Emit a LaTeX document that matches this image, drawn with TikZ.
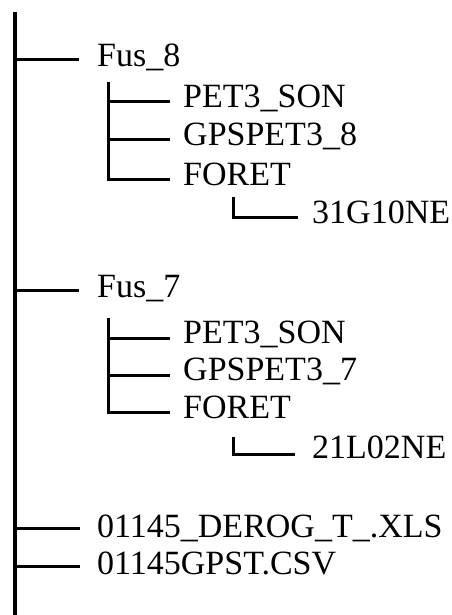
\documentclass[tikz,border=0pt]{standalone}
\usepackage{fontspec}
\setmainfont{Liberation Serif}
\begin{document}
\begin{tikzpicture}[x=1pt,y=-1pt,
  trunk/.style={line width=3.6pt},
  branch/.style={line width=3pt, line join=miter},
  lbl/.style={anchor=base west, inner sep=0pt, font=\fontsize{34}{40}\selectfont}]
\useasboundingbox (0,0) rectangle (451,615);
% main trunk
\coordinate (ttop) at (15,12);
\coordinate (tbot) at (15,615);
\draw[trunk] (ttop) -- (tbot);

% ---------- Fus_8 ----------
\node[lbl] (fus8) at (97,67) {Fus\_8};
\coordinate (m1) at (15,60);
\draw[branch, shorten >=18pt] (m1) -- (m1 -| fus8.west);

\node[lbl] (pet8)  at (183,107) {PET3\_SON};
\node[lbl] (gps8)  at (183,145) {GPSPET3\_8};
\node[lbl] (for8)  at (183,185) {FORET};
\coordinate (s8top) at (108,82);
\coordinate (s8a) at (108,102);
\coordinate (s8b) at (108,139);
\coordinate (s8c) at (108,179);
\draw[branch] (s8top) -- (s8c) -- ([xshift=-13pt]s8c -| for8.west);
\draw[branch, shorten >=13pt] (s8a) -- (s8a -| pet8.west);
\draw[branch, shorten >=13pt] (s8b) -- (s8b -| gps8.west);

\node[lbl] (g31) at (312,223) {31G10NE};
\coordinate (l8top) at (233,197);
\coordinate (l8c) at (233,217);
\draw[branch] (l8top) -- (l8c) -- ([xshift=-14pt]l8c -| g31.west);

% ---------- Fus_7 ----------
\node[lbl] (fus7) at (97,297) {Fus\_7};
\coordinate (m2) at (15,290);
\draw[branch, shorten >=18pt] (m2) -- (m2 -| fus7.west);

\node[lbl] (pet7)  at (183,343) {PET3\_SON};
\node[lbl] (gps7)  at (183,380) {GPSPET3\_7};
\node[lbl] (for7)  at (183,418) {FORET};
\coordinate (s7top) at (108,318);
\coordinate (s7a) at (108,338);
\coordinate (s7b) at (108,375);
\coordinate (s7c) at (108,412);
\draw[branch] (s7top) -- (s7c) -- ([xshift=-13pt]s7c -| for7.west);
\draw[branch, shorten >=13pt] (s7a) -- (s7a -| pet7.west);
\draw[branch, shorten >=13pt] (s7b) -- (s7b -| gps7.west);

\node[lbl] (l21) at (312,458) {21L02NE};
\coordinate (l7top) at (233,437);
\coordinate (l7c) at (233,454);
\draw[branch] (l7top) -- (l7c) -- ([xshift=-17pt]l7c -| l21.west);

% ---------- files ----------
\node[lbl] (xls) at (97,537) {01145\_DEROG\_T\_.XLS};
\coordinate (m3) at (15,528);
\draw[branch, shorten >=17pt] (m3) -- (m3 -| xls.west);

\node[lbl] (csv) at (97,574) {01145GPST.CSV};
\coordinate (m4) at (15,566);
\draw[branch, shorten >=17pt] (m4) -- (m4 -| csv.west);
\end{tikzpicture}
\end{document}
